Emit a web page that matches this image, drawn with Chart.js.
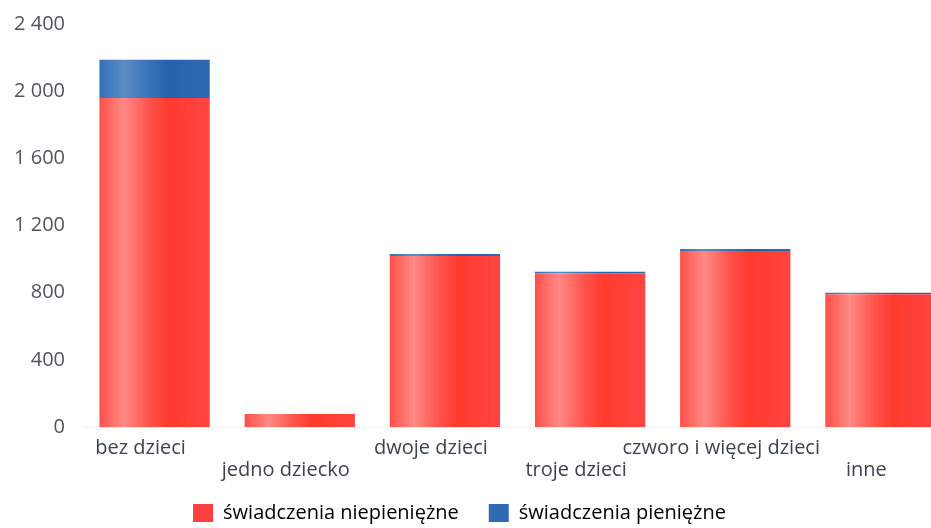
<!DOCTYPE html>
<html>
<head>
<meta charset="utf-8">
<script src="https://cdn.jsdelivr.net/npm/chart.js@4"></script>
<style>
  html, body { margin: 0; padding: 0; background: #fff; overflow: hidden; }
  #wrap { position: relative; width: 931px; height: 528px; overflow: hidden; }
  #chart { position: absolute; left: 0; top: 0; }
</style>
</head>
<body>
<div id="wrap"><canvas id="chart" width="953" height="528"></canvas></div>
<script>
// Kategorie i wartości
const categories = ['bez dzieci', 'jedno dziecko', 'dwoje dzieci', 'troje dzieci', 'czworo i więcej dzieci', 'inne'];
const niepieniezne = [1960, 78, 1018, 914, 1048, 790];
const pieniezne = [227, 0, 12, 10, 12, 10];
const seriesNames = ['świadczenia niepieniężne', 'świadczenia pieniężne'];
const yTicks = [0, 400, 800, 1200, 1600, 2000, 2400];

// etykiety na zmianę w dwóch rzędach
const xLabels = categories.map((c, i) => i % 2 === 1 ? ['', c] : c);

const FONT = '"Open Sans", "Noto Sans", sans-serif';

// poziomy gradient dla słupka (jaśniejszy pasek z lewej)
function barGradient(ctx, stops) {
  const chart = ctx.chart;
  const xs = chart.scales.x;
  if (!xs || ctx.dataIndex === undefined) return stops[stops.length - 1][1];
  const cx = xs.getPixelForValue(ctx.dataIndex);
  const w = (xs.getPixelForValue(1) - xs.getPixelForValue(0)) * 0.76;
  const g = chart.ctx.createLinearGradient(cx - w / 2, 0, cx + w / 2, 0);
  stops.forEach(s => g.addColorStop(s[0], s[1]));
  return g;
}
const redStops = [[0, '#ff4f4a'], [0.22, '#ff8a84'], [0.45, '#ff524d'], [0.62, '#ff3a2f'], [1, '#ff4541']];
const blueStops = [[0, '#3170b5'], [0.22, '#5b8dc8'], [0.45, '#3873b8'], [0.62, '#2462ac'], [1, '#2d6ab2']];

// legenda: stała wysokość i przesunięcie (jak w oryginale)
const legendFix = {
  id: 'legendFix',
  beforeLayout(chart) {
    const lg = chart.legend;
    if (lg && !lg._fixed) {
      const fit = lg.fit;
      lg.fit = function () { fit.call(this); this.height = 43; };
      lg._fixed = true;
    }
  },
  afterLayout(chart) {
    const lg = chart.legend;
    if (lg) {
      lg.left -= 17; lg.right -= 17;
      lg.top -= 12; lg.bottom = chart.height;
    }
  }
};

new Chart(document.getElementById('chart'), {
  type: 'bar',
  data: {
    labels: xLabels,
    datasets: [
      {
        label: seriesNames[0],
        data: niepieniezne,
        backgroundColor: c => barGradient(c, redStops),
        borderWidth: 0
      },
      {
        label: seriesNames[1],
        data: pieniezne,
        backgroundColor: c => barGradient(c, blueStops),
        borderWidth: 0
      }
    ]
  },
  plugins: [legendFix],
  options: {
    responsive: false,
    animation: false,
    devicePixelRatio: 1,
    layout: { padding: { top: 24, right: 0, bottom: 0, left: 0 } },
    datasets: { bar: { barPercentage: 0.76, categoryPercentage: 1 } },
    plugins: {
      legend: {
        position: 'bottom',
        labels: {
          font: { family: FONT, size: 20 },
          color: '#3b4350',
          boxWidth: 20,
          boxHeight: 18,
          padding: 30,
          generateLabels: chart => seriesNames.map((n, i) => ({
            text: n,
            fillStyle: i === 0 ? '#ff4040' : '#2e6bb3',
            strokeStyle: 'transparent',
            lineWidth: 0,
            datasetIndex: i
          }))
        }
      },
      tooltip: { enabled: false }
    },
    scales: {
      x: {
        stacked: true,
        afterFit: s => { s.height = 58; },
        grid: { display: false, drawTicks: false },
        border: { display: true, color: '#f0f0f0' },
        ticks: {
          font: { family: FONT, size: 20, lineHeight: 1.1 },
          color: '#3b4350',
          padding: 10,
          labelOffset: -14,
          maxRotation: 0,
          autoSkip: false
        }
      },
      y: {
        stacked: true,
        min: 0,
        max: 2400,
        afterFit: s => { s.width = 82; s.paddingTop = 12; s.paddingBottom = 12; },
        afterBuildTicks: s => { s.ticks = yTicks.map(v => ({ value: v })); },
        grid: { display: false, drawTicks: false },
        border: { display: false },
        ticks: {
          font: { family: FONT, size: 20 },
          color: '#50565f',
          padding: 17,
          callback: v => String(v).replace(/\B(?=(\d{3})+(?!\d))/g, ' ')
        }
      }
    }
  }
});
</script>
</body>
</html>
